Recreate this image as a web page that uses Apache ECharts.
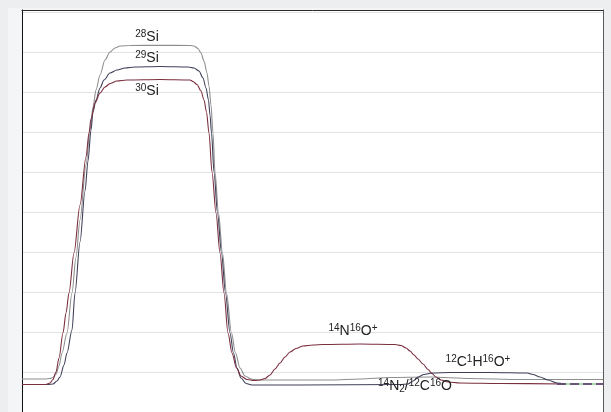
<!DOCTYPE html>
<html>
<head>
<meta charset="utf-8">
<script src="https://cdn.jsdelivr.net/npm/echarts@6/dist/echarts.min.js"></script>
<style>
html,body{margin:0;padding:0;background:#eceeef;}
#chart{width:611px;height:412px;}
</style>
</head>
<body>
<div id="chart"></div>
<script>
// Time (arbitrary units) and intensity (arbitrary units)
var trace28 = [
  [0,33],[23,33],[28,33.5],[31,34.5],[34,38],[37,46],[40,59],[45,79],[50,119],[54,155],[58,192],[64,247],[68,282],
  [71,305],[74,322],[78,337],[83,352],[88,360],[93,364],[98,366],[108,366.5],[138,366.7],[168,366.5],
  [172,366],[176,363.5],[179,359],[182,351],[185,339],[187,326],[189,307],[191,279],[193,240],[196.5,199],
  [200.5,159],[204.5,119],[209.5,79],[213.5,59],[218,44],[223,36],[229,33],[236,32],[308,32],[338,33],
  [368,34.5],[408,35],[448,33.5],[498,32.5],[581,32.5]
];
var trace29 = [
  [0,27.5],[26,27.5],[31,28],[35,31],[38,35],[42,47],[45,59],[50,82],[53,119],[58,170],[63,221],[66,251],[69,282],
  [71,300],[74,312],[78,324],[82,332],[88,339],[95,342],[103,344],[113,345],[138,345.5],[166,345],
  [172,344],[177,341],[181,334],[184,324],[186.5,312],[188,297],[189.5,279],[192,240],[195.5,199],
  [199.5,159],[203.5,119],[208,79],[211.5,59],[215,44],[219,34],[224,28.5],[230,27],[278,27],[378,27.5],
  [386,28],[391,31],[396,35],[402,37.5],[410,39],[428,39.5],[468,39.5],[505,39],[511,37.5],[518,35],
  [526,32],[535,29],[543,28]
];
var trace30 = [
  [0,27.5],[24,27.5],[28,29],[31,32.5],[34,40],[37,54],[41,79],[44,99],[47,119],[52,159],[58,207],[64,255],
  [67,279],[69,293],[73,309],[78,319],[83,325],[88,328.5],[95,331],[105,332],[138,332.5],[168,332],
  [171,330.5],[175,327.5],[179,321],[182,312],[184.5,300],[187,279],[190,240],[194,199],[198,159],
  [202,119],[206,79],[210,59],[214.5,44],[219,36],[225,32.5],[232,31.5],[238,32],[243,33.5],[248,37],
  [253,43],[258,49],[263,55],[268,60],[274,63.5],[281,66],[291,67],[301,67.5],[338,68],[373,67.5],
  [379,66.5],[384,64],[388,61],[392,57],[396,53],[401,48],[406,42.5],[410,38.5],[414,35],[419,32],
  [426,30],[438,29],[478,28.5],[543,28]
];
var traceTail = [[535,28],[581,28]];
var yTicks = {min: 0, max: 402, interval: 40};

var chart = echarts.init(document.getElementById('chart'), null, {renderer: 'canvas'});

var supStyle = {fontSize: 10, lineHeight: 10, verticalAlign: 'top', fontFamily: 'Liberation Sans', fill: '#222'};
var subStyle = {fontSize: 10, lineHeight: 10, verticalAlign: 'bottom', fontFamily: 'Liberation Sans', fill: '#222'};
var mStyle = {fontSize: 14, lineHeight: 16, fontFamily: 'Liberation Sans', fill: '#222'};
function lbl(text, x, y) {
  return {
    type: 'text', x: x, y: y, z: 100,
    style: {
      text: text, align: 'center', verticalAlign: 'middle',
      fontFamily: 'Liberation Sans', fontSize: 14, fill: '#222',
      rich: {s: supStyle, b: subStyle, m: mStyle}
    }
  };
}

var lineBase = {type: 'line', showSymbol: false, symbol: 'none', smooth: 0.3, smoothMonotone: 'x', animation: false, silent: true};

var option = {
  animation: false,
  backgroundColor: '#eceeef',
  grid: {left: 22, top: 10, width: 581, height: 402, show: false},
  xAxis: [
    {type: 'value', min: 0, max: 581, show: false, splitLine: {show: false}},
    {type: 'value', min: 0, max: 581, position: 'top', axisLine: {show: true, onZero: false, lineStyle: {color: '#2a2a2a', width: 1}},
     axisTick: {show: false}, axisLabel: {show: false}, splitLine: {show: false}}
  ],
  yAxis: [
    {type: 'value', min: yTicks.min, max: yTicks.max, interval: yTicks.interval, position: 'left',
     axisLine: {show: true, onZero: false, lineStyle: {color: '#111', width: 1}},
     axisTick: {show: false}, axisLabel: {show: false},
     splitLine: {show: true, showMinLine: false, lineStyle: {color: '#e2e2e2', width: 1}}},
    {type: 'value', min: yTicks.min, max: yTicks.max, interval: yTicks.interval, position: 'right',
     axisLine: {show: true, onZero: false, lineStyle: {color: '#5a5a5a', width: 1}},
     axisTick: {show: false}, axisLabel: {show: false}, splitLine: {show: false}}
  ],
  graphic: [
    {type: 'rect', z: -10, shape: {x: 8, y: 8, width: 595, height: 404}, style: {fill: '#f4f5f6'}},
    {type: 'rect', z: -9, shape: {x: 22, y: 10, width: 581, height: 402}, style: {fill: '#ffffff'}},
    lbl('{s|28}{m|Si}', 147, 37),
    lbl('{s|29}{m|Si}', 147, 58),
    lbl('{s|30}{m|Si}', 147, 91),
    lbl('{s|14}{m|N}{s|16}{m|O}{s|+}', 353, 331),
    lbl('{s|12}{m|C}{s|1}{m|H}{s|16}{m|O}{s|+}', 478, 362),
    lbl('{s|14}{m|N}{b|2}{m|/}{s|12}{m|C}{s|16}{m|O}', 415, 386)
  ],
  series: [
    Object.assign({}, lineBase, {name: 'm/z 28', data: trace28, z: 3, lineStyle: {color: '#8e8e8e', width: 1.1}}),
    Object.assign({}, lineBase, {name: 'm/z 29', data: trace29, z: 4, lineStyle: {color: '#3e4058', width: 1.1}}),
    Object.assign({}, lineBase, {name: 'm/z 30', data: trace30, z: 5, lineStyle: {color: '#7a2e3e', width: 1.1}}),
    Object.assign({}, lineBase, {name: 'tail-g', data: traceTail, z: 6, smooth: false, lineStyle: {color: '#8fd08f', width: 1.5}}),
    Object.assign({}, lineBase, {name: 'tail-p', data: traceTail, z: 7, smooth: false, lineStyle: {color: '#5a2a6e', width: 1.5, type: [9, 4]}})
  ]
};
chart.setOption(option);
</script>
</body>
</html>
